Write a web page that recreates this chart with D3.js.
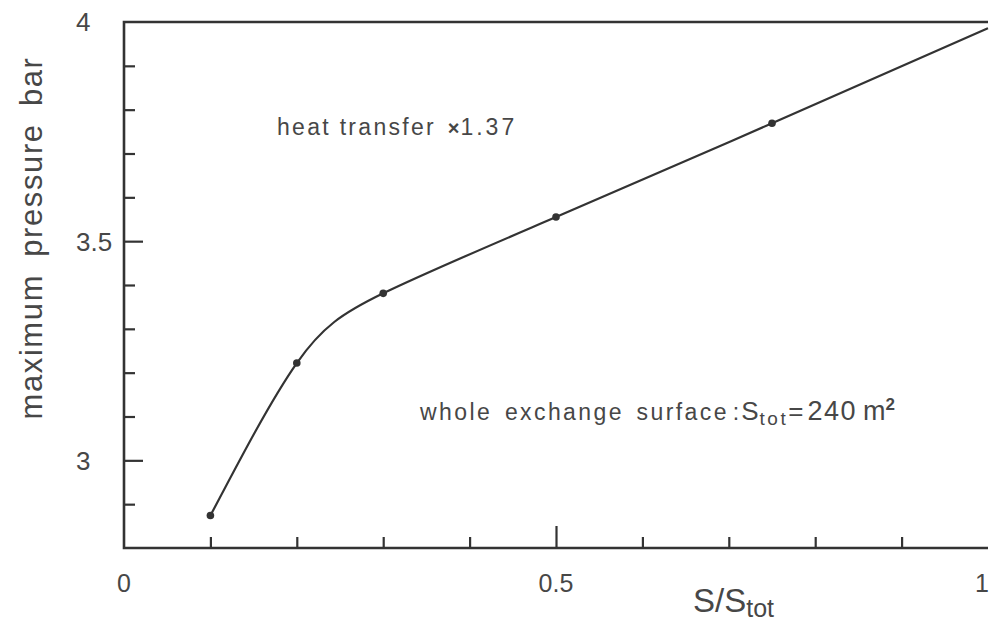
<!DOCTYPE html>
<html>
<head>
<meta charset="utf-8">
<script src="https://cdn.jsdelivr.net/npm/d3@7"></script>
<style>
  html, body { margin: 0; padding: 0; background: #fff; }
  svg { display: block; }
  text { font-family: "Liberation Sans", Arial, Helvetica, sans-serif; fill: #474747; }
</style>
</head>
<body>
<svg id="chart" width="989" height="623"></svg>
<script>
// Data
const sRatio   = [0.1, 0.2, 0.3, 0.5, 0.75, 1.0];
const pressure = [2.874, 3.222, 3.381, 3.555, 3.769, 3.986];
const markedPoints = [0, 1, 2, 3, 4]; // indices of points drawn with a dot
const xMajorTicks = [0, 0.5, 1];
const xMinorTicks = [0.1, 0.2, 0.3, 0.4, 0.6, 0.7, 0.8, 0.9];
const yMajorTicks = [3, 3.5, 4];
const yMinorTicks = [2.9, 3.1, 3.2, 3.3, 3.4, 3.6, 3.7, 3.8, 3.9];

const svg = d3.select("#chart");
const L = 124, R = 988, T = 22, B = 548;

const x = d3.scaleLinear().domain([0, 1]).range([L, R]);
const y = d3.scaleLinear().domain([2.8, 4]).range([B, T]);

const ink = "#333";

// Minor and major ticks (drawn inside the frame)
const yMinor = svg.append("g").attr("transform", `translate(${L},0)`)
  .call(d3.axisLeft(y).tickValues(yMinorTicks).tickSize(-11).tickFormat(""));
const yMajor = svg.append("g").attr("transform", `translate(${L},0)`)
  .call(d3.axisLeft(y).tickValues(yMajorTicks.filter(v => v < 4)).tickSize(-19).tickFormat(""));
const xMinor = svg.append("g").attr("transform", `translate(0,${B})`)
  .call(d3.axisBottom(x).tickValues(xMinorTicks).tickSize(-11).tickFormat(""));
const xMajor = svg.append("g").attr("transform", `translate(0,${B})`)
  .call(d3.axisBottom(x).tickValues([0.5]).tickSize(-22).tickFormat(""));

[yMinor, yMajor, xMinor, xMajor].forEach(g => {
  g.select(".domain").remove();
  g.selectAll(".tick line").attr("stroke", ink).attr("stroke-width", 2.2);
});

// Frame: top, left, bottom
svg.append("path")
  .attr("d", `M${R},${T} L${L},${T} L${L},${B} L${R},${B}`)
  .attr("fill", "none").attr("stroke", ink).attr("stroke-width", 2.6);

// Tick labels
svg.append("g").selectAll("text").data(yMajorTicks).join("text")
  .attr("x", 76).attr("y", d => y(d)).attr("dy", "0.36em")
  .attr("text-anchor", "start").attr("font-size", 26)
  .text(d => d3.format("")(d));

svg.append("g").selectAll("text").data(xMajorTicks).join("text")
  .attr("x", d => d === 1 ? x(d) - 6 : x(d)).attr("y", 583).attr("dy", "0.36em")
  .attr("text-anchor", "middle").attr("font-size", 25)
  .text(d => d3.format("")(d));

// Curve
const line = d3.line().x(i => x(sRatio[i])).y(i => y(pressure[i])).curve(d3.curveNatural);
svg.append("path")
  .attr("d", line(d3.range(sRatio.length)))
  .attr("fill", "none").attr("stroke", ink).attr("stroke-width", 2.2);

svg.append("g").selectAll("circle").data(markedPoints).join("circle")
  .attr("cx", i => x(sRatio[i])).attr("cy", i => y(pressure[i]))
  .attr("r", 3.8).attr("fill", ink);

// Axis titles
svg.append("text")
  .attr("transform", "translate(42,238) rotate(-90)")
  .attr("text-anchor", "middle").attr("font-size", 31)
  .attr("letter-spacing", 1.6).attr("word-spacing", 7)
  .text("maximum pressure bar");

const xt = svg.append("text").attr("x", 693).attr("y", 612).attr("font-size", 33);
xt.append("tspan").text("S/S");
xt.append("tspan").attr("font-size", 25).attr("dy", 5).text("tot");

// Annotations
const heat = svg.append("text").attr("x", 277).attr("y", 135).attr("font-size", 23);
heat.append("tspan").attr("letter-spacing", 2.3).text("heat transfer ");
heat.append("tspan").attr("font-weight", "bold").attr("font-size", 20).attr("dx", 3).text("\u00d7");
heat.append("tspan").attr("letter-spacing", 3).attr("dx", 1).text("1.37");

const ann = svg.append("text").attr("x", 420).attr("y", 420).attr("font-size", 23);
ann.append("tspan").attr("letter-spacing", 2.4).attr("word-spacing", 4).text("whole exchange surface");
ann.append("tspan").attr("dx", 4).attr("letter-spacing", 2).text(":");
ann.append("tspan").attr("font-size", 26).attr("letter-spacing", 1).text("S");
ann.append("tspan").attr("font-size", 19).attr("dy", 5).attr("letter-spacing", 2.5).text("tot");
ann.append("tspan").attr("dy", -5).attr("font-size", 26).attr("letter-spacing", 2).text("=");
ann.append("tspan").attr("dx", 2).attr("font-size", 27).attr("letter-spacing", 1.5).text("240");
ann.append("tspan").attr("dx", 6).attr("font-size", 27).text("m");
ann.append("tspan").attr("font-size", 17).attr("font-weight", "bold").attr("dy", -10).text("2");
</script>
</body>
</html>
